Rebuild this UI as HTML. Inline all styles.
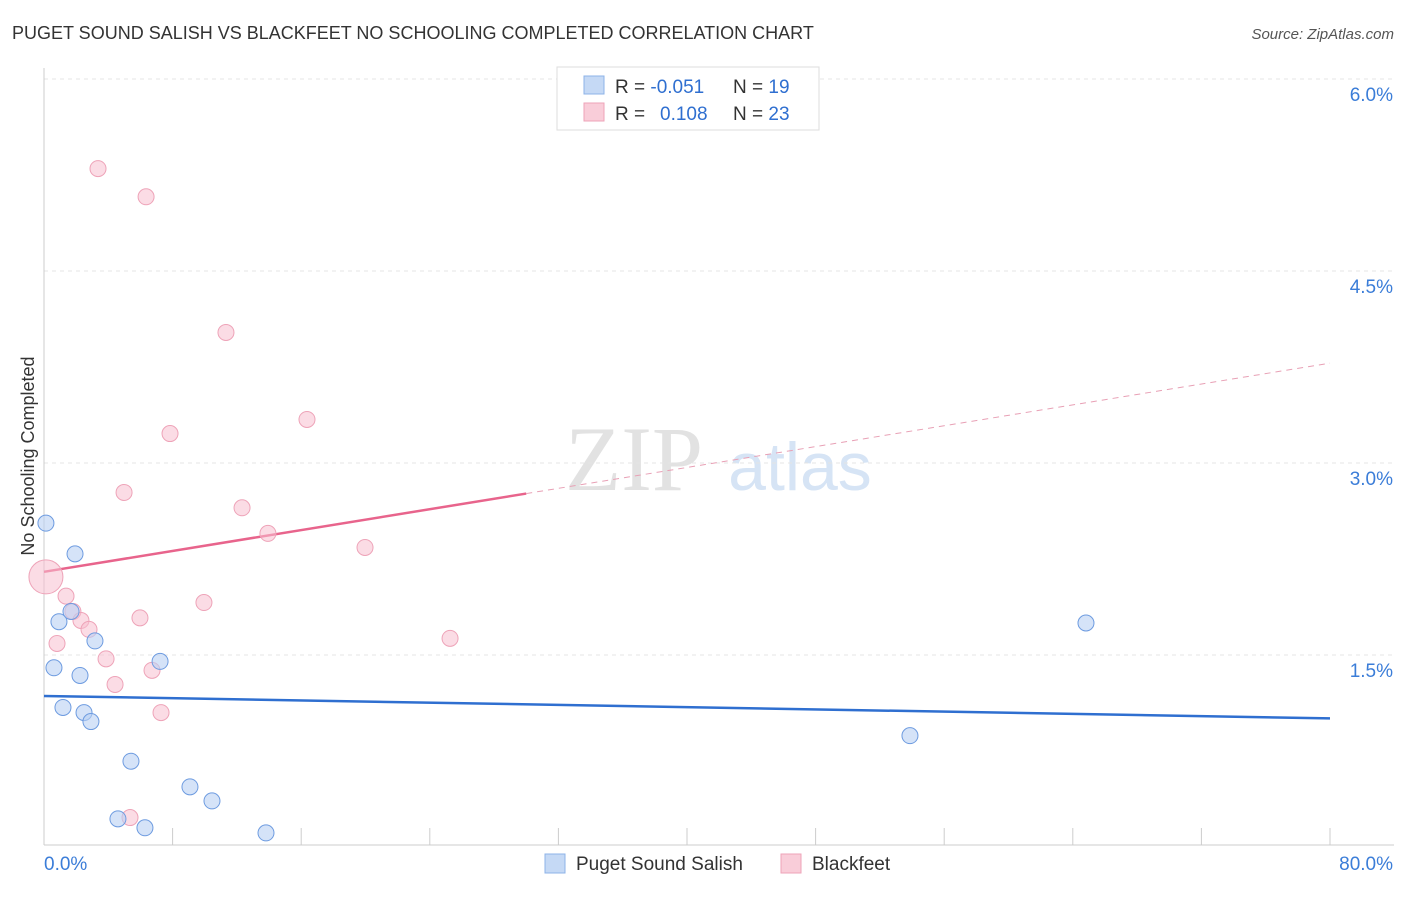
<!DOCTYPE html>
<html><head><meta charset="utf-8"><style>
body{margin:0;background:#fff;font-family:"Liberation Sans",sans-serif;}
</style></head><body>
<svg width="1406" height="892" xmlns="http://www.w3.org/2000/svg" font-family="Liberation Sans, sans-serif" id="chart">
<text x="12" y="39" font-size="18" fill="#333">PUGET SOUND SALISH VS BLACKFEET NO SCHOOLING COMPLETED CORRELATION CHART</text>
<text x="1394" y="39" font-size="15" fill="#555" font-style="italic" text-anchor="end">Source: ZipAtlas.com</text>
<text x="634" y="490" font-size="92" fill="#e2e2e2" font-family="Liberation Serif, serif" text-anchor="middle">ZIP</text>
<text x="800" y="490" font-size="68" fill="#d6e4f5" text-anchor="middle">atlas</text>
<text transform="translate(34,456) rotate(-90)" font-size="18" fill="#333" text-anchor="middle">No Schooling Completed</text>
<g id="grid"></g><g id="axes"></g><g id="lines"></g><g id="points"></g>
<g>
<rect x="557" y="67" width="262" height="63" fill="#fff" stroke="#ddd"/>
<rect x="584" y="76" width="20" height="18" fill="#c5d9f5" stroke="#8db3e8"/>
<rect x="584" y="103" width="20" height="18" fill="#f9cdd9" stroke="#eea3b8"/>
<text x="615" y="93" font-size="19" fill="#333">R = <tspan fill="#2f6fd0">-0.051</tspan><tspan x="733">N = </tspan><tspan fill="#2f6fd0">19</tspan></text>
<text x="615" y="120" font-size="19" fill="#333">R = <tspan x="660" fill="#2f6fd0">0.108</tspan><tspan x="733">N = </tspan><tspan fill="#2f6fd0">23</tspan></text>
</g>
<g>
<rect x="545" y="854" width="20" height="19" fill="#c5d9f5" stroke="#8db3e8"/>
<text x="576" y="870" font-size="19" fill="#333">Puget Sound Salish</text>
<rect x="781" y="854" width="20" height="19" fill="#f9cdd9" stroke="#eea3b8"/>
<text x="812" y="870" font-size="19" fill="#333">Blackfeet</text>
</g>
</svg>
<script>
const blueX=[0.12,1.93,0.93,1.68,3.17,0.62,2.24,7.22,1.18,2.49,2.92,5.41,9.08,10.45,4.60,6.28,13.81,64.82,53.87];
const blueY=[2.53,2.29,1.76,1.84,1.61,1.40,1.34,1.45,1.09,1.05,0.98,0.67,0.47,0.36,0.22,0.15,0.11,1.75,0.87];
const pinkX=[3.36,6.35,11.32,16.36,7.84,4.98,12.32,13.93,19.97,0.12,1.37,9.95,1.80,2.30,5.97,2.80,0.81,25.26,3.86,6.72,4.42,7.28,5.35];
const pinkY=[5.30,5.08,4.02,3.34,3.23,2.77,2.65,2.45,2.34,2.11,1.96,1.91,1.84,1.77,1.79,1.70,1.59,1.63,1.47,1.38,1.27,1.05,0.23];
const blueTrend=[1.18,1.005];
const pinkTrend=[2.15,3.78];
const yTicks=[1.5,3.0,4.5,6.0];
const yTickLabels=["1.5%","3.0%","4.5%","6.0%"];
const xTicks=[0,8,16,24,32,40,48,56,64,72,80];
const NS="http://www.w3.org/2000/svg";
const sx=v=>44+v*1286/80;
const sy=v=>847-v*128;
function mk(tag,attrs,parent){const e=document.createElementNS(NS,tag);for(const k in attrs)e.setAttribute(k,attrs[k]);document.getElementById(parent).appendChild(e);return e;}
yTicks.forEach((t,i)=>{
 const l=mk('line',{x1:44,x2:1394,y1:sy(t),y2:sy(t),stroke:'#e4e4e4','stroke-dasharray':'4,4'},'grid');
 
 
 const tx=mk('text',{x:1393,y:sy(t)+22,'font-size':19,fill:'#3b7dd8','text-anchor':'end'},'grid');
 tx.textContent=yTickLabels[i];
 
 
});
const ax=mk('line',{x1:44,x2:1394,y1:845,y2:845,stroke:'#ccc'},'axes');


const ay=mk('line',{x1:44,x2:44,y1:68,y2:845,stroke:'#ccc'},'axes');


xTicks.forEach(t=>{
 const l=mk('line',{x1:sx(t),x2:sx(t),y1:828,y2:845,stroke:'#ccc'},'axes');
 
 
});
const x0=mk('text',{x:44,y:870,'font-size':19,fill:'#3b7dd8'},'axes');x0.textContent='0.0%';


const x1=mk('text',{x:1393,y:870,'font-size':19,fill:'#3b7dd8','text-anchor':'end'},'axes');x1.textContent='80.0%';


const bl=mk('line',{x1:sx(0),y1:sy(blueTrend[0]),x2:sx(80),y2:sy(blueTrend[1]),stroke:'#2f6fd0','stroke-width':2.5},'lines');


const pm=pinkTrend[0]+(pinkTrend[1]-pinkTrend[0])*30/80;
const pl=mk('line',{x1:sx(0),y1:sy(pinkTrend[0]),x2:sx(30),y2:sy(pm),stroke:'#e8648c','stroke-width':2.5},'lines');


const pd=mk('line',{x1:sx(30),y1:sy(pm),x2:sx(80),y2:sy(pinkTrend[1]),stroke:'#e8a0b5','stroke-width':1,'stroke-dasharray':'6,5'},'lines');


pinkX.forEach((x,i)=>{
 const c=mk('circle',{cx:sx(x),cy:sy(pinkY[i]),r:i===9?17:8,fill:'#f7bfd0','fill-opacity':0.55,stroke:'#eea3b8'},'points');
 
 
});
blueX.forEach((x,i)=>{
 const c=mk('circle',{cx:sx(x),cy:sy(blueY[i]),r:8,fill:'#b9d1f3','fill-opacity':0.6,stroke:'#6d9be0'},'points');
 
 
});
</script>
</body></html>
